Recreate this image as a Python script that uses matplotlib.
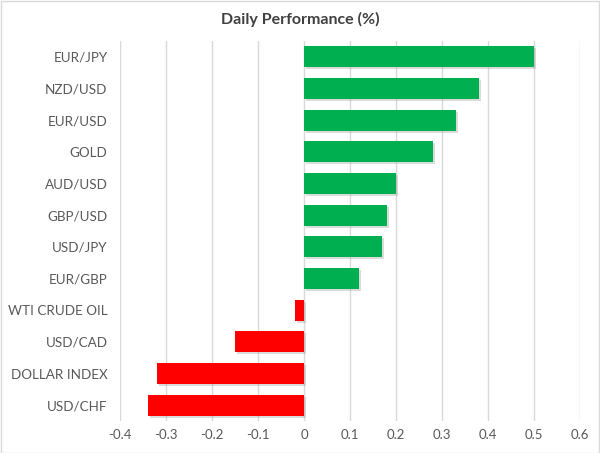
import matplotlib.pyplot as plt
import matplotlib.patheffects as pe

# 데이터
labels = ['EUR/JPY', 'NZD/USD', 'EUR/USD', 'GOLD', 'AUD/USD', 'GBP/USD',
          'USD/JPY', 'EUR/GBP', 'WTI CRUDE OIL', 'USD/CAD', 'DOLLAR INDEX', 'USD/CHF']
values = [0.50, 0.38, 0.33, 0.28, 0.20, 0.18, 0.17, 0.12, -0.02, -0.15, -0.32, -0.34]
xticks = [-0.4, -0.3, -0.2, -0.1, 0, 0.1, 0.2, 0.3, 0.4, 0.5, 0.6]
xtick_labels = ['-0.4', '-0.3', '-0.2', '-0.1', '0', '0.1', '0.2', '0.3', '0.4', '0.5', '0.6']

plt.rcParams['font.family'] = ['Lato', 'DejaVu Sans']
text_color = '#595959'

fig = plt.figure(figsize=(6, 4.53), dpi=100)
ax = fig.add_axes([0.2, 0.0706, 0.767, 0.839])

colors = ['#00B050' if v >= 0 else '#FF0000' for v in values]
ypos = list(range(len(labels)))
bars = ax.barh(ypos, values, height=0.66, color=colors, zorder=3)
for b in bars:
    b.set_path_effects([pe.SimplePatchShadow(offset=(1.5, -1.5), shadow_rgbFace='#999999', alpha=0.35),
                        pe.Normal()])

ax.set_ylim(len(labels) - 0.5, -0.5)
ax.set_xlim(-0.4, 0.6)
ax.set_yticks(ypos)
ax.set_yticklabels(labels, fontsize=9.7, color=text_color)
ax.set_xticks(xticks)
ax.set_xticklabels(xtick_labels, fontsize=9.5, color=text_color)
ax.tick_params(length=0)
ax.tick_params(axis='y', pad=9)
ax.tick_params(axis='x', pad=6)

ax.grid(axis='x', color='#D9D9D9', linewidth=1, zorder=0)
ax.grid(axis='y', visible=False)
for s in ax.spines.values():
    s.set_visible(False)

fig.text(0.5, 0.958, 'Daily Performance (%)', ha='center', va='center',
         fontsize=11.5, fontweight='bold', color='#404040')

# 바깥 테두리
fig.patches.append(plt.Rectangle((0.001, 0.001), 0.998, 0.997, transform=fig.transFigure,
                                 fill=False, edgecolor='#D9D9D9', linewidth=1))

fig.savefig('out.png', dpi=100)
